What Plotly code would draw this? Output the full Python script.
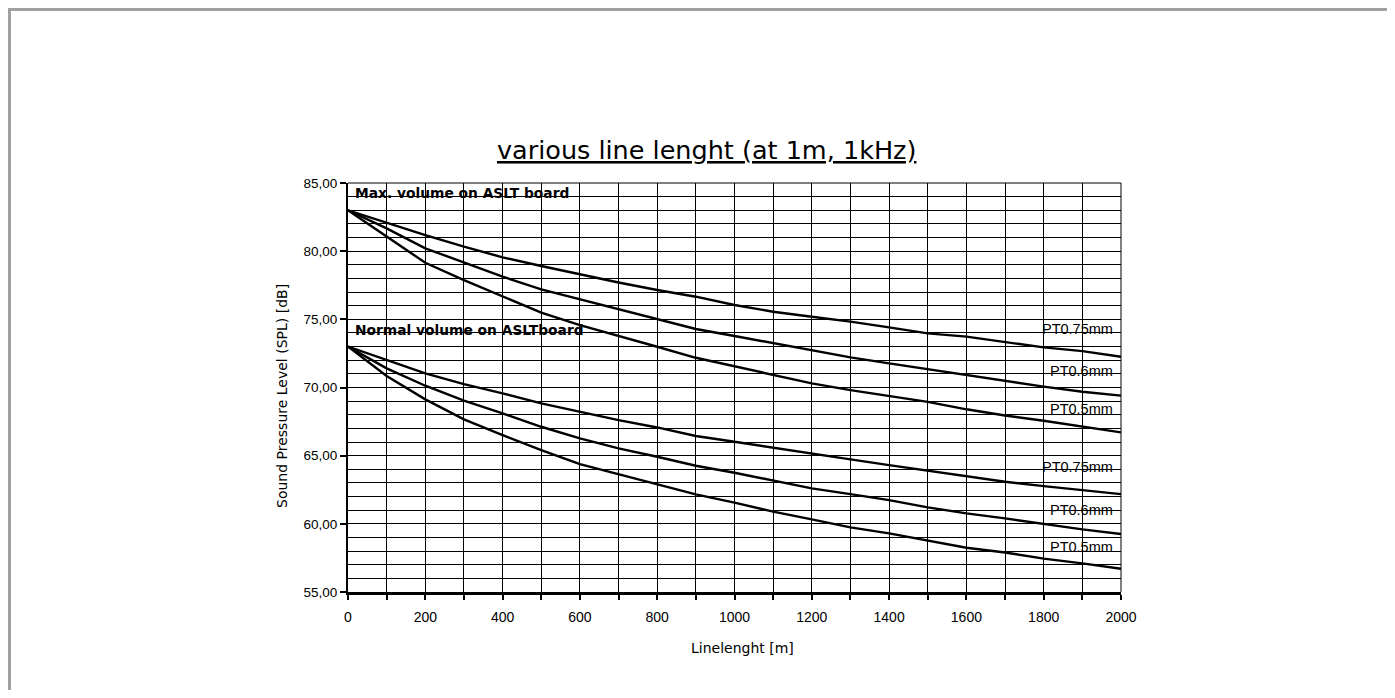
import plotly.graph_objects as go

lengths = [0, 100, 200, 300, 400, 500, 600, 700, 800, 900, 1000, 1100, 1200, 1300, 1400, 1500, 1600, 1700, 1800, 1900, 2000]

max_pt075 = [83.0, 82.09, 81.18, 80.33, 79.55, 78.91, 78.30, 77.70, 77.15, 76.66, 76.05, 75.56, 75.19, 74.83, 74.41, 73.97, 73.73, 73.31, 72.94, 72.67, 72.26]
max_pt06 = [83.0, 81.67, 80.21, 79.15, 78.13, 77.20, 76.46, 75.73, 75.00, 74.29, 73.78, 73.24, 72.70, 72.21, 71.77, 71.33, 70.94, 70.47, 70.06, 69.69, 69.40]
max_pt05 = [83.0, 81.06, 79.15, 77.88, 76.71, 75.49, 74.58, 73.80, 72.99, 72.18, 71.57, 70.91, 70.30, 69.81, 69.37, 68.95, 68.40, 67.95, 67.56, 67.12, 66.71]

norm_pt075 = [73.0, 72.01, 71.04, 70.25, 69.57, 68.83, 68.22, 67.61, 67.07, 66.44, 66.02, 65.58, 65.12, 64.73, 64.31, 63.89, 63.50, 63.09, 62.77, 62.48, 62.18]
norm_pt06 = [73.0, 71.40, 70.13, 69.03, 68.10, 67.12, 66.27, 65.53, 64.92, 64.26, 63.75, 63.16, 62.60, 62.18, 61.74, 61.21, 60.77, 60.40, 59.98, 59.59, 59.25]
norm_pt05 = [73.0, 70.84, 69.13, 67.66, 66.51, 65.41, 64.38, 63.63, 62.92, 62.16, 61.55, 60.89, 60.33, 59.74, 59.30, 58.75, 58.25, 57.90, 57.45, 57.10, 56.70]

series_names = ["PT0.75mm", "PT0.6mm", "PT0.5mm", "PT0.75mm", "PT0.6mm", "PT0.5mm"]
label_y = [74.3, 71.2, 68.42, 64.16, 61.0, 58.29]

title_text = "various line lenght (at 1m, 1kHz)"
x_title = "Linelenght [m]"
y_title = "Sound Pressure Level (SPL) [dB]"
group_labels = ["Max. volume on ASLT board", "Normal volume on ASLTboard"]
group_label_y = [84.25, 74.2]

y_tickvals = [55, 60, 65, 70, 75, 80, 85]
y_ticktext = ["55,00", "60,00", "65,00", "70,00", "75,00", "80,00", "85,00"]
x_tickvals = [0, 200, 400, 600, 800, 1000, 1200, 1400, 1600, 1800, 2000]

FONT = "Liberation Sans, Arial, sans-serif"
WIDE = "DejaVu Sans, Verdana, sans-serif"

fig = go.Figure()
all_series = [max_pt075, max_pt06, max_pt05, norm_pt075, norm_pt06, norm_pt05]
for name, vals in zip(series_names, all_series):
    fig.add_trace(go.Scatter(x=lengths, y=vals, mode="lines", name=name,
                             line=dict(color="black", width=2.4), showlegend=False))

# figure coordinates (page is offset by 8px body margin)
W, H = 1379, 682
L, R, T, B = 340, 1113, 175, 584
pw, ph = R - L, B - T

def px(xp):
    return (xp - L) / pw

def py(yp):
    return (B - yp) / ph

annotations = []
for name, yv in zip(series_names, label_y):
    annotations.append(dict(x=1984, y=yv, xref="x", yref="y", text=name, showarrow=False,
                            xanchor="right", yanchor="middle",
                            font=dict(family=FONT, size=14.5, color="black")))
for txt, yv in zip(group_labels, group_label_y):
    annotations.append(dict(x=14, y=yv, xref="x", yref="y", text="<b>" + txt + "</b>", showarrow=False,
                            xanchor="left", yanchor="middle",
                            font=dict(family=WIDE, size=13.8, color="black")))
# title
annotations.append(dict(x=px(698), y=py(142), xref="paper", yref="paper",
                        text="<u>" + title_text + "</u>", showarrow=False,
                        xanchor="center", yanchor="middle",
                        font=dict(family=WIDE, size=25.5, color="black")))
# axis titles
annotations.append(dict(x=px(734), y=py(640), xref="paper", yref="paper", text=x_title,
                        showarrow=False, xanchor="center", yanchor="middle",
                        font=dict(family=WIDE, size=14, color="black")))
annotations.append(dict(x=px(274), y=py(388), xref="paper", yref="paper", text=y_title,
                        showarrow=False, xanchor="center", yanchor="middle", textangle=-90,
                        font=dict(family=WIDE, size=14, color="black")))

shapes = [
    dict(type="line", xref="paper", yref="paper", x0=px(1.5), x1=px(W), y0=py(1.5), y1=py(1.5),
         line=dict(color="#a0a0a0", width=3)),
    dict(type="line", xref="paper", yref="paper", x0=px(1.5), x1=px(1.5), y0=py(0), y1=py(H),
         line=dict(color="#a0a0a0", width=3)),
    dict(type="line", xref="paper", yref="paper", x0=1, x1=1, y0=0, y1=1,
         line=dict(color="black", width=1)),
    dict(type="line", xref="paper", yref="paper", x0=0, x1=1, y0=1, y1=1,
         line=dict(color="black", width=1)),
]

fig.update_layout(
    width=W, height=H, autosize=False,
    paper_bgcolor="white", plot_bgcolor="white",
    margin=dict(l=L, r=W - R, t=T, b=H - B, pad=0),
    annotations=annotations,
    shapes=shapes,
    font=dict(family=FONT, size=13, color="black"),
)

fig.update_xaxes(
    range=[0, 2000], tickvals=x_tickvals, ticks="outside", ticklen=5, tickwidth=2, tickcolor="black",
    showline=True, linecolor="black", linewidth=3,
    showgrid=True, gridcolor="black", gridwidth=1,
    minor=dict(dtick=100, tick0=0, showgrid=True, gridcolor="black", gridwidth=1,
               ticks="outside", ticklen=5, tickwidth=2, tickcolor="black"),
    tickfont=dict(family=FONT, size=14, color="black"),
    ticklabelstandoff=5,
    zeroline=False, mirror=False,
)
fig.update_yaxes(
    range=[55, 85], tickvals=y_tickvals, ticktext=y_ticktext, ticks="outside", ticklen=6, tickwidth=2,
    tickcolor="black",
    showline=True, linecolor="black", linewidth=2,
    showgrid=True, gridcolor="black", gridwidth=1,
    minor=dict(dtick=1, tick0=55, showgrid=True, gridcolor="black", gridwidth=1),
    tickfont=dict(family=FONT, size=13.5, color="black"),
    zeroline=False,
)

fig.write_html("out.html")
